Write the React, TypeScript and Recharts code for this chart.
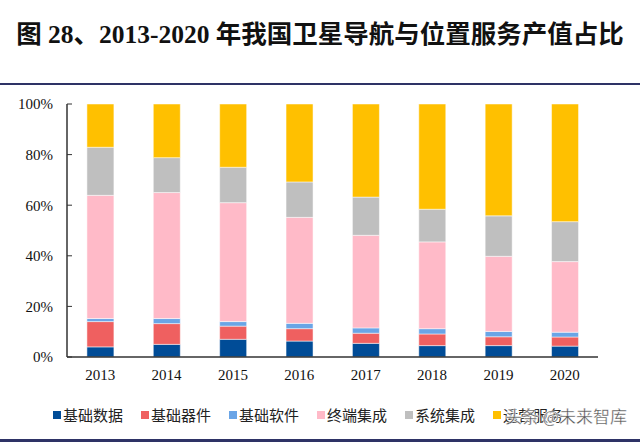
import { BarChart, Bar, XAxis, YAxis, Legend } from "recharts";

const years = ["2013", "2014", "2015", "2016", "2017", "2018", "2019", "2020"];
const basicData = [4, 5, 7, 6.3, 5.4, 4.5, 4.5, 4.3];
const basicDevice = [10, 8.2, 5.2, 4.9, 4, 4.6, 3.5, 3.6];
const basicSoftware = [1.2, 2, 1.8, 2.1, 2.1, 2.1, 2.1, 1.9];
const terminal = [48.7, 49.8, 47, 41.9, 36.6, 34.3, 29.7, 27.9];
const system = [19, 13.8, 14, 14, 15.1, 12.9, 16, 15.8];
const operation = [17.1, 21.2, 25, 30.8, 36.8, 41.6, 44.2, 46.5];
const yTicks = [0, 0.2, 0.4, 0.6, 0.8, 1];

const series = [
  { key: "基础数据", values: basicData, color: "#004C97" },
  { key: "基础器件", values: basicDevice, color: "#EF6060" },
  { key: "基础软件", values: basicSoftware, color: "#6AA5E6" },
  { key: "终端集成", values: terminal, color: "#FFBAC8" },
  { key: "系统集成", values: system, color: "#BFBFBF" },
  { key: "运营服务", values: operation, color: "#FFC000" },
];

const data = years.map((year, i) => {
  const row: Record<string, string | number> = { year };
  series.forEach((s) => (row[s.key] = s.values[i]));
  return row;
});

const serif = "'Liberation Serif', 'Times New Roman', serif";
const cjk = "'Liberation Serif', 'Noto Sans CJK SC', serif";

function LegendContent() {
  return (
    <div style={{ display: "flex", fontFamily: cjk, fontSize: 15, color: "#222" }}>
      {series.map((s) => (
        <div key={s.key} style={{ display: "flex", alignItems: "center", width: 88 }}>
          <span style={{ width: 8, height: 8, background: s.color, marginRight: 2, display: "inline-block" }} />
          <span>{s.key}</span>
        </div>
      ))}
    </div>
  );
}

export default function App() {
  return (
    <div style={{ position: "absolute", left: 0, top: 0, width: 640, height: 444, background: "#fff", overflow: "hidden" }}>
      <div
        style={{
          position: "absolute",
          left: 0,
          top: 20,
          width: 640,
          lineHeight: "30px",
          textAlign: "center",
          fontFamily: cjk,
          fontWeight: "bold",
          fontSize: 25.5,
          color: "#111",
          whiteSpace: "nowrap",
        }}
      >
        图 28、2013-2020 年我国卫星导航与位置服务产值占比
      </div>
      <div style={{ position: "absolute", left: 0, top: 83, width: 640, height: 2, background: "#2E3366" }} />
      <div style={{ position: "absolute", left: 0, top: 439, width: 640, height: 3, background: "#2E3366" }} />
      <div style={{ position: "absolute", left: 0, top: 0 }}>
        <BarChart
          width={640}
          height={444}
          data={data}
          stackOffset="expand"
          barCategoryGap="30%"
          margin={{ top: 104, right: 42, bottom: 57, left: 0 }}
        >
          <XAxis
            dataKey="year"
            height={30}
            tickLine={false}
            axisLine={{ stroke: "#333", strokeWidth: 1.5 }}
            tick={{ fill: "#111", fontSize: 15, fontFamily: serif }}
            tickMargin={6}
          />
          <YAxis
            width={67}
            ticks={yTicks}
            domain={[0, 1]}
            tickFormatter={(v: number) => `${Math.round(v * 100)}%`}
            axisLine={{ stroke: "#333", strokeWidth: 1.5 }}
            tickLine={{ stroke: "#333" }}
            tickSize={-5}
            tick={{ fill: "#111", fontSize: 15, fontFamily: serif }}
            tickMargin={19}
          />
          {series.map((s) => (
            <Bar
              key={s.key}
              dataKey={s.key}
              stackId="a"
              fill={s.color}
              stroke="#fff"
              strokeWidth={0.5}
              isAnimationActive={false}
            />
          ))}
          <Legend
            verticalAlign="middle"
            align="center"
            content={<LegendContent />}
            wrapperStyle={{ top: 404, left: 53, width: 560 }}
          />
        </BarChart>
      </div>
      <div
        style={{
          position: "absolute",
          left: 505,
          top: 403,
          fontFamily: "'Noto Sans CJK SC', sans-serif",
          fontSize: 17,
          color: "#555",
          WebkitTextStroke: "0.3px #fff",
          textShadow: "0 0 2px #fff, 0 0 2px #fff",
          whiteSpace: "nowrap",
        }}
      >
        头条 @未来智库
      </div>
    </div>
  );
}
